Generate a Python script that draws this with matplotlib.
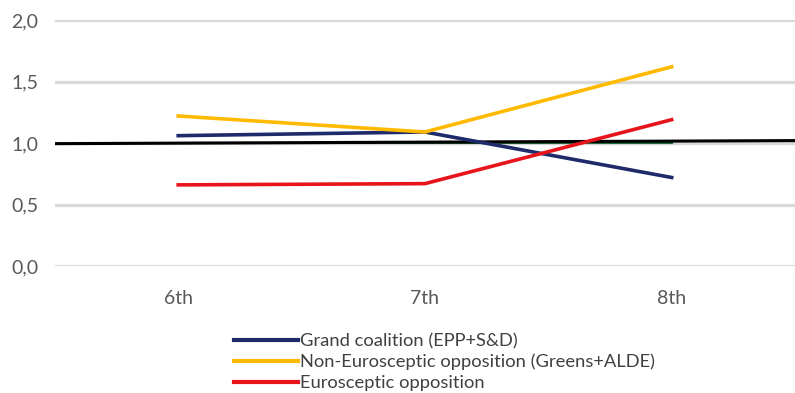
import matplotlib.pyplot as plt
from matplotlib.lines import Line2D

plt.rcParams['font.family'] = ['Lato', 'DejaVu Sans']

terms = ['6th', '7th', '8th']
grand_coalition = [1.06, 1.09, 0.72]
non_eurosceptic = [1.22, 1.09, 1.62]
eurosceptic = [0.66, 0.67, 1.19]
baseline = [1.0, 1.0, 1.0]
# reference line across the full width (slightly tilted in the original)
ref_x = [-0.5, 2.5]
ref_y = [0.995, 1.02]
yticks = [0.0, 0.5, 1.0, 1.5, 2.0]

colors = {'grand': '#1f2a6b', 'non': '#ffba00', 'euro': '#e8141c'}

fig = plt.figure(figsize=(7.95, 3.93), dpi=100)
ax = fig.add_axes([0.069, 0.323, 0.931, 0.626])

for y in yticks:
    ax.axhline(y, color='#d9d9d9', lw=2.4 if y > 0 else 1.5, zorder=0)

x = range(len(terms))
ax.plot(x, baseline, color='#1e6b3a', lw=1.5, zorder=2)
ax.plot(ref_x, ref_y, color='black', lw=2.2, zorder=3)
ax.plot(x, grand_coalition, color=colors['grand'], lw=2.6, zorder=4)
ax.plot(x, non_eurosceptic, color=colors['non'], lw=2.6, zorder=4)
ax.plot(x, eurosceptic, color=colors['euro'], lw=2.6, zorder=4)

ax.set_xlim(-0.5, 2.5)
ax.set_ylim(0, 2.0)
ax.set_xticks(list(x))
ax.set_xticklabels(terms)
ax.set_yticks(yticks)
ax.set_yticklabels([f'{v:.1f}'.replace('.', ',') for v in yticks])
ax.tick_params(length=0, labelsize=14, colors='#595959', pad=12)
ax.tick_params(axis='x', pad=17)
for s in ax.spines.values():
    s.set_visible(False)

handles = [Line2D([], [], color=colors['grand'], lw=3),
           Line2D([], [], color=colors['non'], lw=3),
           Line2D([], [], color=colors['euro'], lw=3)]
labels = ['Grand coalition (EPP+S&D)',
          'Non-Eurosceptic opposition (Greens+ALDE)',
          'Eurosceptic opposition']
fig.legend(handles, labels, loc='upper left', bbox_to_anchor=(0.283, 0.176),
           frameon=False, fontsize=13.2, handlelength=3.5, handletextpad=0.1,
           labelspacing=0.26, borderpad=0, labelcolor='#404040')

fig.savefig('out.png', dpi=100)
